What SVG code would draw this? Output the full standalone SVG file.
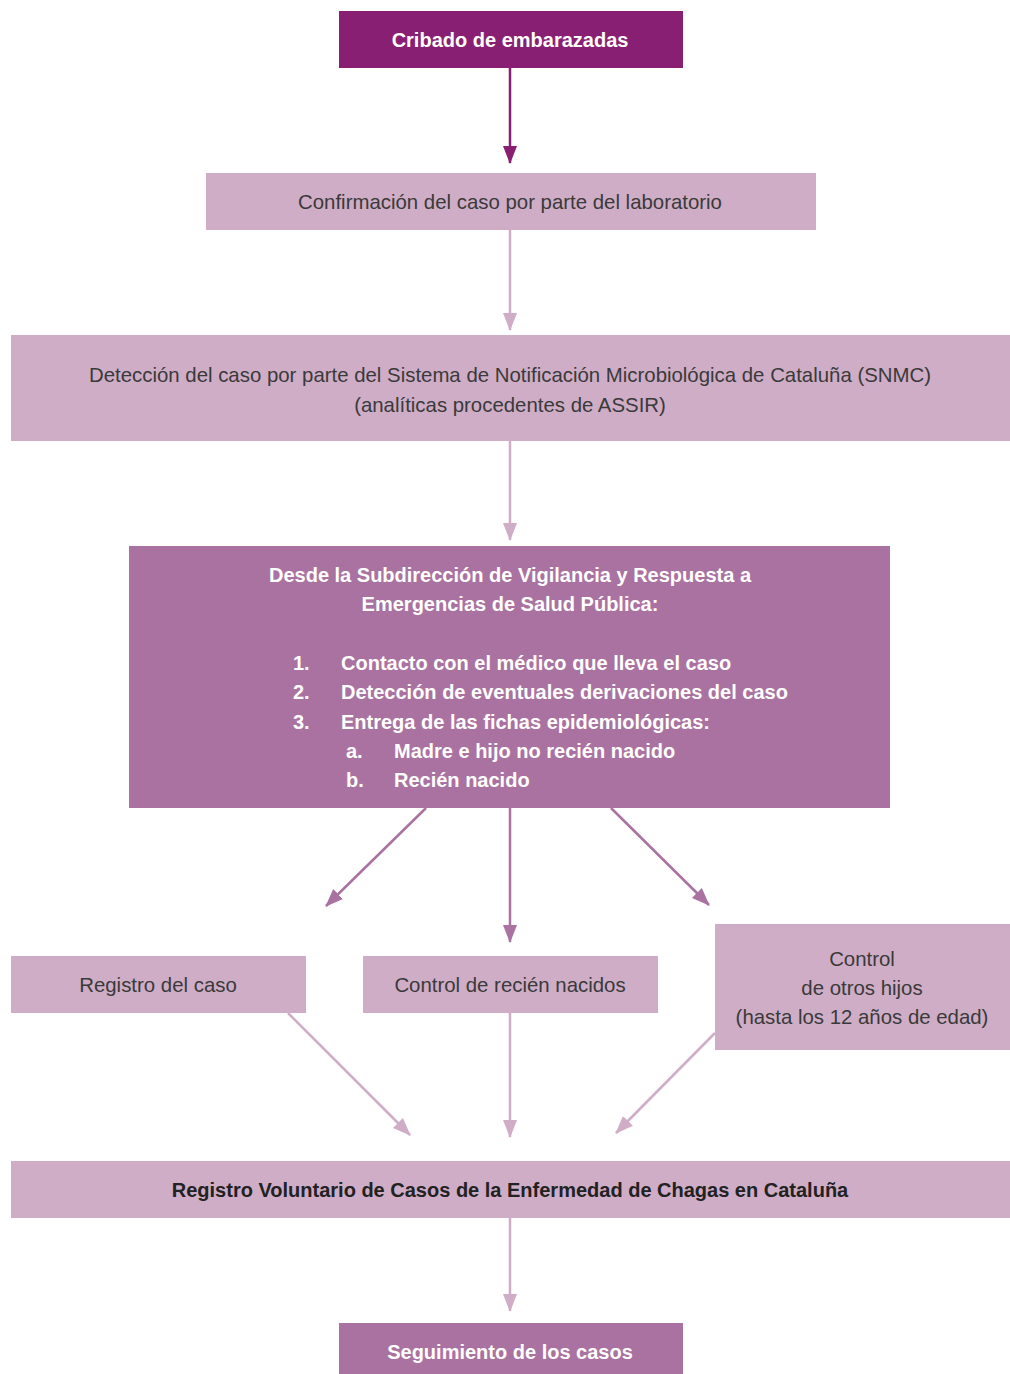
<svg xmlns="http://www.w3.org/2000/svg" width="1010" height="1374" viewBox="0 0 1010 1374">
<style>
.dark{fill:#891f72}
.mid{fill:#aa72a0}
.light{fill:#cfadc6}
text{font-family:"Liberation Sans",Arial,sans-serif;font-size:20.4px}
.w{fill:#ffffff;font-weight:bold;font-size:20px}
.g{fill:#3a3a3a}
.b{fill:#222222;font-weight:bold;font-size:20px}
.c{text-anchor:middle}
.ld{stroke:#891f72;stroke-width:2.5;fill:none}
.lm{stroke:#aa72a0;stroke-width:2.5;fill:none}
.ll{stroke:#cfadc6;stroke-width:2.5;fill:none}
</style>
<defs>
<marker id="ad" markerUnits="userSpaceOnUse" markerWidth="18" markerHeight="16" viewBox="0 0 18 16" refX="17" refY="8" orient="auto"><path d="M0,1 L18,8 L0,15 Z" fill="#891f72"/></marker>
<marker id="am" markerUnits="userSpaceOnUse" markerWidth="18" markerHeight="16" viewBox="0 0 18 16" refX="17" refY="8" orient="auto"><path d="M0,1 L18,8 L0,15 Z" fill="#aa72a0"/></marker>
<marker id="al" markerUnits="userSpaceOnUse" markerWidth="18" markerHeight="16" viewBox="0 0 18 16" refX="17" refY="8" orient="auto"><path d="M0,1 L18,8 L0,15 Z" fill="#cfadc6"/></marker>
</defs>
<rect width="1010" height="1374" fill="#ffffff"/>
<g id="connectors">
<line class="ld" x1="510" y1="68" x2="510" y2="163" marker-end="url(#ad)"/>
<line class="ll" x1="510" y1="230" x2="510" y2="330" marker-end="url(#al)"/>
<line class="ll" x1="510" y1="441" x2="510" y2="540" marker-end="url(#al)"/>
<line class="lm" x1="426" y1="808" x2="326" y2="906" marker-end="url(#am)"/>
<line class="lm" x1="510" y1="808" x2="510" y2="942" marker-end="url(#am)"/>
<line class="lm" x1="611" y1="808" x2="709" y2="905" marker-end="url(#am)"/>
<line class="ll" x1="288" y1="1013" x2="410" y2="1135" marker-end="url(#al)"/>
<line class="ll" x1="510" y1="1013" x2="510" y2="1137" marker-end="url(#al)"/>
<line class="ll" x1="715" y1="1033" x2="616" y2="1133" marker-end="url(#al)"/>
<line class="ll" x1="510" y1="1218" x2="510" y2="1311" marker-end="url(#al)"/>
</g>
<g id="n1"><rect class="dark" x="339" y="11" width="344" height="57"/><text class="w c" x="510" y="47">Cribado de embarazadas</text></g>
<g id="n2"><rect class="light" x="206" y="173" width="610" height="57"/><text class="g c" x="510" y="209">Confirmación del caso por parte del laboratorio</text></g>
<g id="n3"><rect class="light" x="11" y="335" width="999" height="106"/><text class="g c" x="510" y="382">Detección del caso por parte del Sistema de Notificación Microbiológica de Cataluña (SNMC)</text><text class="g c" x="510" y="412">(analíticas procedentes de ASSIR)</text></g>
<g id="n4"><rect class="mid" x="129" y="546" width="761" height="262"/>
<text class="w c" x="510" y="582">Desde la Subdirección de Vigilancia y Respuesta a</text>
<text class="w c" x="510" y="611">Emergencias de Salud Pública:</text>
<text class="w" x="293" y="670">1.</text><text class="w" x="341" y="670">Contacto con el médico que lleva el caso</text>
<text class="w" x="293" y="699">2.</text><text class="w" x="341" y="699">Detección de eventuales derivaciones del caso</text>
<text class="w" x="293" y="729">3.</text><text class="w" x="341" y="729">Entrega de las fichas epidemiológicas:</text>
<text class="w" x="346" y="758">a.</text><text class="w" x="394" y="758">Madre e hijo no recién nacido</text>
<text class="w" x="346" y="787">b.</text><text class="w" x="394" y="787">Recién nacido</text>
</g>
<g id="n5"><rect class="light" x="11" y="956" width="295" height="57"/><text class="g c" x="158" y="992">Registro del caso</text></g>
<g id="n6"><rect class="light" x="363" y="956" width="295" height="57"/><text class="g c" x="510" y="992">Control de recién nacidos</text></g>
<g id="n7"><rect class="light" x="715" y="924" width="295" height="126"/><text class="g c" x="862" y="966">Control</text><text class="g c" x="862" y="995">de otros hijos</text><text class="g c" x="862" y="1024">(hasta los 12 años de edad)</text></g>
<g id="n8"><rect class="light" x="11" y="1161" width="999" height="57"/><text class="b c" x="510" y="1197">Registro Voluntario de Casos de la Enfermedad de Chagas en Cataluña</text></g>
<g id="n9"><rect class="mid" x="339" y="1323" width="344" height="51"/><text class="w c" x="510" y="1359">Seguimiento de los casos</text></g>
</svg>
